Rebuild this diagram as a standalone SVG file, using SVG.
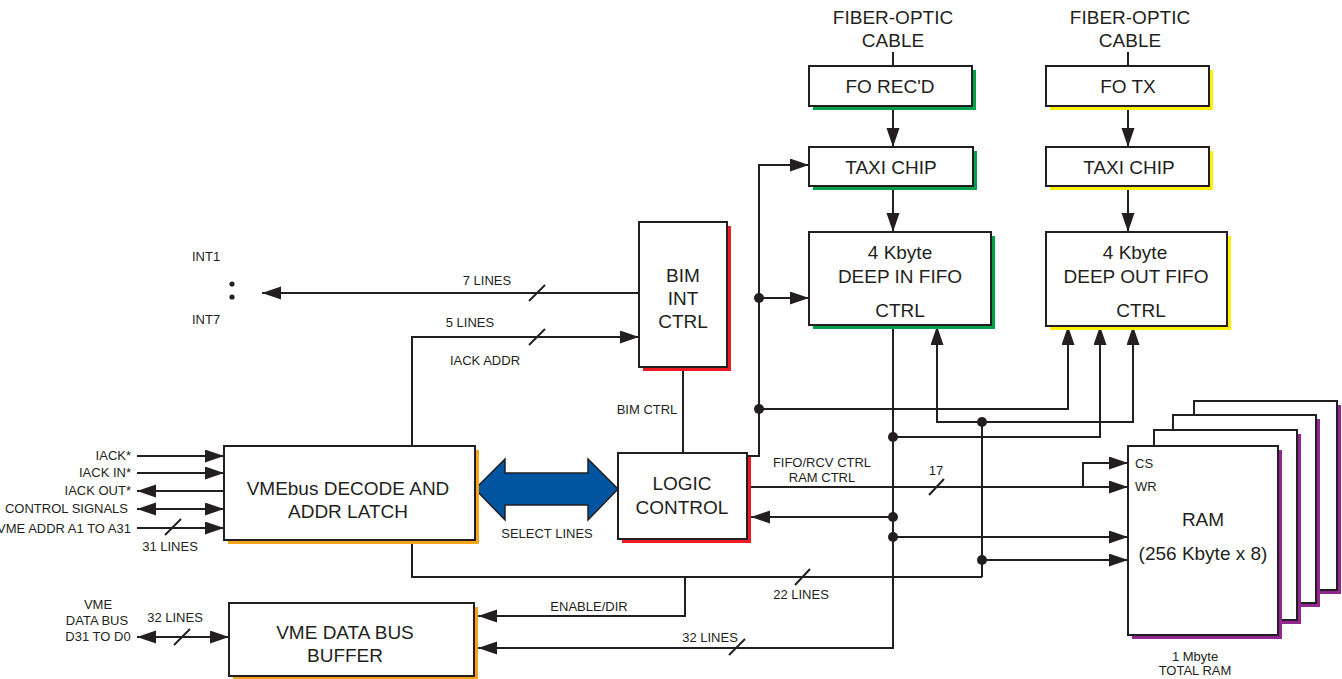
<svg xmlns="http://www.w3.org/2000/svg" width="1342" height="679" viewBox="0 0 1342 679">
<style>
text{font-family:"Liberation Sans",Arial,sans-serif;fill:#231f20}
.big{font-size:19px;text-anchor:middle}
.sm{font-size:13px}
.c{text-anchor:middle}
.e{text-anchor:end}
.box{fill:#fff;stroke:#231f20;stroke-width:2}
.w{fill:none;stroke:#231f20;stroke-width:2}
.a{marker-end:url(#ah)}
.d{fill:#231f20}
</style>
<defs>
<marker id="ah" markerUnits="userSpaceOnUse" markerWidth="20" markerHeight="14" refX="19" refY="6.5" orient="auto-start-reverse">
<path d="M0,0 L19,6.5 L0,13 z" fill="#231f20"/>
</marker>
</defs>
<rect width="1342" height="679" fill="#fff"/>

<g id="connectors">
<path class="w" d="M893,52 V66"/>
<path class="w a" d="M893,106 V147"/>
<path class="w a" d="M893,186 V232"/>
<path class="w" d="M1128,52 V66"/>
<path class="w a" d="M1128,106 V147"/>
<path class="w a" d="M1128,186 V232"/>
<path class="w a" d="M747,456 H759 V165 H809"/>
<path class="w a" d="M759,298 H809"/>
<path class="w a" d="M759,409 H1068 V326"/>
<path class="w a" d="M893,325 V648 H478"/>
<path class="w a" d="M893,437 H1100 V326"/>
<path class="w a" d="M893,517 H751"/>
<path class="w a" d="M893,537 H1128"/>
<path class="w a" d="M982,422 H937 V326"/>
<path class="w a" d="M982,422 H1133 V326"/>
<path class="w" d="M982,422 V577"/>
<path class="w a" d="M982,560 H1128"/>
<path class="w" d="M412,540 V577 H982"/>
<path class="w a" d="M412,446 V337 H639"/>
<path class="w a" d="M685,577 V616 H478"/>
<path class="w a" d="M751,487 H1128"/>
<path class="w a" d="M1083,487 V463 H1128"/>
<path class="w" d="M683,367 V453"/>
<path class="w a" d="M639,293 H262"/>
<path class="w a" d="M137,456 H224"/>
<path class="w a" d="M137,473 H224"/>
<path class="w a" d="M224,491 H137"/>
<path class="w a" d="M137,509 H224" marker-start="url(#ah)"/>
<path class="w a" d="M137,528 H224"/>
<path class="w a" d="M137,637 H229" marker-start="url(#ah)"/>
<g class="w">
<path d="M929,495 L944,479"/>
<path d="M795,585 L810,569"/>
<path d="M729,655 L745,639"/>
<path d="M529,301 L545,285"/>
<path d="M529,345 L545,329"/>
<path d="M165,535 L181,519"/>
<path d="M174,645 L190,629"/>
</g>
<g class="d">
<circle cx="759" cy="298" r="5"/>
<circle cx="759" cy="409" r="5"/>
<circle cx="893" cy="437" r="5"/>
<circle cx="893" cy="517" r="5"/>
<circle cx="893" cy="537" r="5"/>
<circle cx="982" cy="422" r="5"/>
<circle cx="982" cy="560" r="5"/>
<circle cx="232" cy="284" r="2.6"/>
<circle cx="232" cy="297" r="2.6"/>
</g>
<polygon points="475,489 505,459 505,473 588,473 588,459 618,489 588,520 588,505 505,505 505,520" fill="#0054a0" stroke="#231f20" stroke-width="1.5"/>
</g>

<g id="fo-recd">
<rect x="813" y="70" width="163" height="40" fill="#00a14b"/>
<rect class="box" x="809" y="66" width="163" height="40"/>
<text class="big" x="890" y="93">FO REC'D</text>
</g>
<g id="taxi-left">
<rect x="813" y="151" width="164" height="39" fill="#00a14b"/>
<rect class="box" x="809" y="147" width="164" height="39"/>
<text class="big" x="891" y="174">TAXI CHIP</text>
</g>
<g id="in-fifo">
<rect x="813" y="236" width="182" height="93" fill="#00a14b"/>
<rect class="box" x="809" y="232" width="182" height="93"/>
<text class="big" x="900" y="259">4 Kbyte</text>
<text class="big" x="900" y="283">DEEP IN FIFO</text>
<text class="big" x="900" y="317">CTRL</text>
</g>
<g id="fo-tx">
<rect x="1050" y="70" width="163" height="40" fill="#fff200"/>
<rect class="box" x="1046" y="66" width="163" height="40"/>
<text class="big" x="1128" y="93">FO TX</text>
</g>
<g id="taxi-right">
<rect x="1050" y="151" width="163" height="39" fill="#fff200"/>
<rect class="box" x="1046" y="147" width="163" height="39"/>
<text class="big" x="1129" y="174">TAXI CHIP</text>
</g>
<g id="out-fifo">
<rect x="1050" y="236" width="181" height="94" fill="#fff200"/>
<rect class="box" x="1046" y="232" width="181" height="94"/>
<text class="big" x="1135" y="259">4 Kbyte</text>
<text class="big" x="1136" y="283">DEEP OUT FIFO</text>
<text class="big" x="1141" y="317">CTRL</text>
</g>
<g id="bim">
<rect x="643" y="226" width="88" height="145" fill="#ed1c24"/>
<rect class="box" x="639" y="222" width="88" height="145"/>
<text class="big" x="683" y="282">BIM</text>
<text class="big" x="683" y="305">INT</text>
<text class="big" x="683" y="328">CTRL</text>
</g>
<g id="logic">
<rect x="622" y="457" width="129" height="86" fill="#ed1c24"/>
<rect class="box" x="618" y="453" width="129" height="86"/>
<text class="big" x="682" y="490">LOGIC</text>
<text class="big" x="682" y="514">CONTROL</text>
</g>
<g id="vmebus">
<rect x="228" y="450" width="251" height="94" fill="#f7a21b"/>
<rect class="box" x="224" y="446" width="251" height="94"/>
<text class="big" x="348" y="495">VMEbus DECODE AND</text>
<text class="big" x="348" y="518">ADDR LATCH</text>
</g>
<g id="databuf">
<rect x="233" y="607" width="245" height="73" fill="#f7a21b"/>
<rect class="box" x="229" y="603" width="245" height="73"/>
<text class="big" x="345" y="639">VME DATA BUS</text>
<text class="big" x="345" y="662">BUFFER</text>
</g>
<g id="ram">
<rect x="1198" y="405" width="143" height="189" fill="#92278f"/>
<rect class="box" x="1194" y="401" width="143" height="189"/>
<rect x="1177" y="419" width="143" height="188" fill="#92278f"/>
<rect class="box" x="1173" y="415" width="143" height="188"/>
<rect x="1158" y="434" width="143" height="190" fill="#92278f"/>
<rect class="box" x="1154" y="430" width="143" height="190"/>
<rect x="1132" y="450" width="150" height="189" fill="#92278f"/>
<rect class="box" x="1128" y="446" width="150" height="189"/>
<text class="sm" x="1135" y="468">CS</text>
<text class="sm" x="1135" y="491">WR</text>
<text class="big" x="1203" y="526">RAM</text>
<text class="big" x="1203" y="560">(256 Kbyte x 8)</text>
</g>

<g id="labels">
<text class="big" x="893" y="24">FIBER-OPTIC</text>
<text class="big" x="893" y="47">CABLE</text>
<text class="big" x="1130" y="24">FIBER-OPTIC</text>
<text class="big" x="1130" y="47">CABLE</text>
<text class="sm c" x="487" y="285">7 LINES</text>
<text class="sm c" x="470" y="327">5 LINES</text>
<text class="sm c" x="485" y="365">IACK ADDR</text>
<text class="sm c" x="647" y="414">BIM CTRL</text>
<text class="sm c" x="822" y="467">FIFO/RCV CTRL</text>
<text class="sm c" x="822" y="482">RAM CTRL</text>
<text class="sm c" x="936" y="475">17</text>
<text class="sm c" x="547" y="538">SELECT LINES</text>
<text class="sm c" x="801" y="599">22 LINES</text>
<text class="sm c" x="589" y="611">ENABLE/DIR</text>
<text class="sm c" x="710" y="642">32 LINES</text>
<text class="sm" x="192" y="261">INT1</text>
<text class="sm" x="192" y="324">INT7</text>
<text class="sm e" x="131" y="460">IACK*</text>
<text class="sm e" x="131" y="477">IACK IN*</text>
<text class="sm e" x="131" y="495">IACK OUT*</text>
<text class="sm e" x="128" y="513">CONTROL SIGNALS</text>
<text class="sm e" x="131" y="533">VME ADDR A1 TO A31</text>
<text class="sm c" x="170" y="551">31 LINES</text>
<text class="sm c" x="98" y="609">VME</text>
<text class="sm c" x="97" y="625">DATA BUS</text>
<text class="sm c" x="98" y="641">D31 TO D0</text>
<text class="sm c" x="175" y="622">32 LINES</text>
<text class="sm c" x="1195" y="661">1 Mbyte</text>
<text class="sm c" x="1195" y="675">TOTAL RAM</text>
</g>
</svg>
